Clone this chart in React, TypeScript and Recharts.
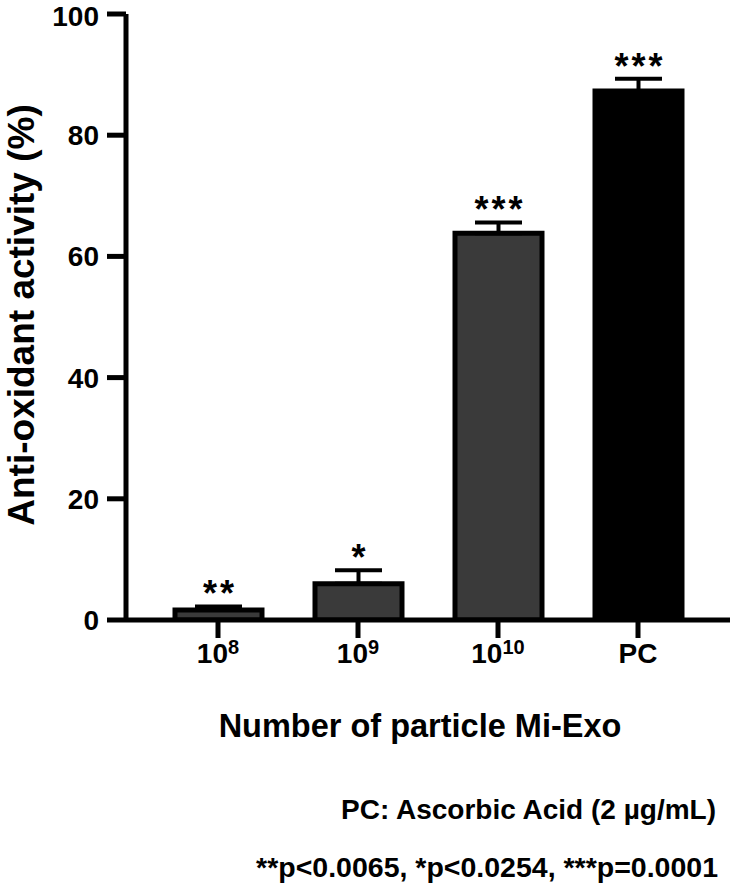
import React from 'react';
import { BarChart, Bar, XAxis, YAxis, ErrorBar, Cell, LabelList } from 'recharts';

const categories = ['10^8', '10^9', '10^10', 'PC'];
const activity = [1.65, 6.0, 63.8, 87.3];
const errorUp = [0.58, 2.2, 1.8, 2.0];
const significance = ['**', '*', '***', '***'];
const barColors = ['#3a3a3a', '#3a3a3a', '#3a3a3a', '#000000'];
const yTicks = [0, 20, 40, 60, 80, 100];

const yTitle = 'Anti-oxidant activity (%)';
const xTitle = 'Number of particle Mi-Exo';
const note1 = 'PC: Ascorbic Acid (2 µg/mL)';
const note2 = '**p<0.0065, *p<0.0254, ***p=0.0001';

const data = categories.map((c, i) => ({
  name: c,
  value: activity[i],
  err: [0, errorUp[i]],
  stars: significance[i],
}));

const FONT = '"Liberation Sans", Arial, Helvetica, sans-serif';

const XTick = (props: any) => {
  const { x, y, payload } = props;
  const [base, exp] = String(payload.value).split('^');
  return (
    <text x={x} y={y + 23} textAnchor="middle" fontFamily={FONT} fontWeight="bold" fontSize={28} fill="#000">
      <tspan>{base}</tspan>
      {exp ? <tspan dy={-9} fontSize={20}>{exp}</tspan> : null}
    </text>
  );
};

const LS = 3;
const StarLabel = (props: any) => {
  const { x, y, width, height, value } = props;
  const index = props.index ?? 0;
  const v = activity[index];
  const ppu = v ? Number(height) / v : 0;
  const capY = Number(y) - errorUp[index] * ppu;
  return (
    <text
      x={Number(x) + Number(width) / 2 + LS / 2}
      y={capY}
      textAnchor="middle"
      fontFamily={FONT}
      fontWeight="bold"
      fontSize={36}
      letterSpacing={LS}
      fill="#000"
    >
      {value}
    </text>
  );
};

export default function App() {
  return (
    <div style={{ position: 'absolute', left: 0, top: 0, width: 735, height: 888, background: '#fff' }}>
      <BarChart
        width={735}
        height={888}
        data={data}
        margin={{ top: 14, right: 5, left: 26, bottom: 208 }}
      >
        <XAxis
          dataKey="name"
          height={60}
          tick={<XTick />}
          tickSize={18}
          axisLine={{ stroke: '#000', strokeWidth: 5 }}
          tickLine={{ stroke: '#000', strokeWidth: 5 }}
          padding={{ left: 22, right: 22 }}
          interval={0}
        />
        <YAxis
          width={100}
          domain={[0, 100]}
          ticks={yTicks}
          tickSize={19}
          tickMargin={8}
          axisLine={{ stroke: '#000', strokeWidth: 5 }}
          tickLine={{ stroke: '#000', strokeWidth: 5 }}
          tick={{ fontFamily: FONT, fontWeight: 'bold', fontSize: 28, fill: '#000' }}
          allowDataOverflow
        />
        <Bar dataKey="value" barSize={87} stroke="#000" strokeWidth={5} isAnimationActive={false}>
          {data.map((d, i) => (
            <Cell key={d.name} fill={barColors[i]} />
          ))}
          <ErrorBar dataKey="err" width={23.5} strokeWidth={4} stroke="#000" direction="y" isAnimationActive={false} />
          <LabelList dataKey="stars" content={<StarLabel />} />
        </Bar>
      </BarChart>
      <svg
        width={735}
        height={888}
        style={{ position: 'absolute', left: 0, top: 0, pointerEvents: 'none' }}
      >
        <text
          transform="translate(34,315) rotate(-90)"
          textAnchor="middle"
          fontFamily={FONT}
          fontWeight="bold"
          fontSize={37}
          fill="#000"
        >
          {yTitle}
        </text>
        <text x={420} y={737} textAnchor="middle" fontFamily={FONT} fontWeight="bold" fontSize={32.5} fill="#000">
          {xTitle}
        </text>
        <text x={716} y={819} textAnchor="end" fontFamily={FONT} fontWeight="bold" fontSize={28} fill="#000">
          {note1}
        </text>
        <text x={718} y={877} textAnchor="end" fontFamily={FONT} fontWeight="bold" fontSize={28.5} fill="#000">
          {note2}
        </text>
      </svg>
    </div>
  );
}
